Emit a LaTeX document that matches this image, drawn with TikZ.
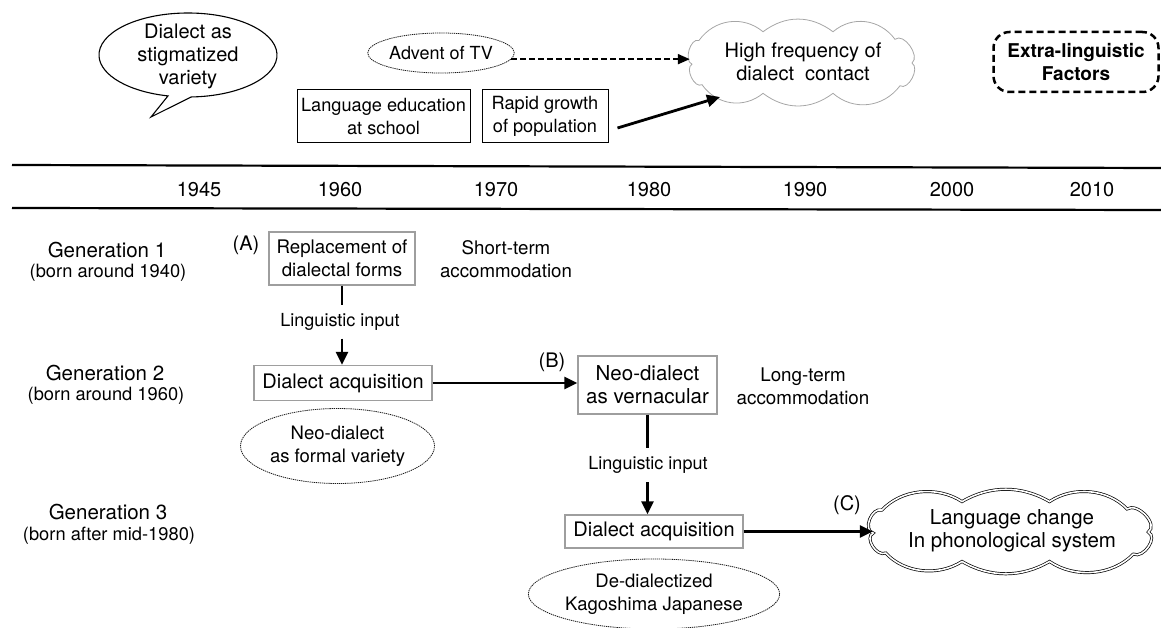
\documentclass[tikz,border=0pt]{standalone}
\usepackage{fontspec}
\setmainfont{TeX Gyre Heros}
\usetikzlibrary{shapes.geometric,arrows.meta}
\newcommand\fsz[1]{\fontsize{#1}{23}\selectfont}
\newcommand\cloudoutline{(-111,2) to[bend left=90] (-104,-20) to[bend left=45] (-40,-28) to[bend left=35] (30,-28) to[bend left=45] (92,-21) to[bend left=90] (109,1) to[bend left=90] (97,22) to[bend left=45] (30,29) to[bend left=35] (-40,29) to[bend left=45] (-101,21) to[bend left=90] (-111,2) -- cycle}
\begin{document}
\begin{tikzpicture}[x=1pt,y=-1pt,
  txt/.style={align=center,inner sep=0pt,font=\fsz{18.5}},
  gbox/.style={txt,draw=black!38,line width=1.3pt},
  bbox/.style={txt,draw=black,line width=1pt},
  dotell/.style={txt,ellipse,draw=black!90,line width=0.8pt,dash pattern=on 1.3pt off 0.8pt},
  arr/.style={line width=2.8pt,-{Triangle[length=13pt,width=12pt]}},
  seg/.style={line width=2.8pt},
  dasharr/.style={line width=2pt,dash pattern=on 6pt off 3pt,-{Triangle[length=12pt,width=10pt]}},
  lab/.style={txt,font=\fsz{20}},
  anchorell/.style={ellipse,inner sep=0pt}]
\useasboundingbox (0,0) rectangle (1161,628);

% speech bubble
\node[txt,font=\fsz{20}] (bubble) at (188,56) {Dialect as\\stigmatized\\variety};
\draw[line width=1.1pt] (188,55) ++(88:89 and 42) arc[start angle=88,end angle=-257,x radius=89,y radius=42] -- (151,117) -- cycle;

% top factors
\node[dotell,minimum width=144pt,minimum height=40pt,font=\fsz{18}] (tv) at (441,53) {Advent of TV};
\node[anchorell,minimum width=226pt,minimum height=80pt] (cl1) at (803,62) {};
\draw[shift={(cl1.center)},yscale=1.08,draw=black!35,line width=0.8pt] \cloudoutline;
\node[txt,font=\fsz{20}] (cl1t) at (803,62) {High frequency of\\dialect\ \ contact};
\node[bbox,minimum width=173pt,minimum height=53pt,font=\fsz{18.2}] (lang) at (383.5,116.5) {Language education\\at school};
\node[bbox,minimum width=126pt,minimum height=53pt,font=\fsz{18.2}] (rapid) at (545,116.5) {Rapid growth\\of population};
\node[txt,draw,line width=2.5pt,dash pattern=on 7pt off 4pt,rounded corners=16pt,minimum width=165pt,minimum height=60pt,font=\bfseries\fsz{19}] (extra) at (1076,62) {Extra-linguistic\\Factors};

\draw[dasharr] (tv.-5) -- (tv.-5 -| cl1.west);
\draw[arr] ([xshift=9pt,yshift=-11.5pt]rapid.east) -- ([shift={(-83,35)}]cl1.center);

% timeline
\draw[line width=2.2pt] (12,165) -- (1161,168);
\draw[line width=2.2pt] (12,208) -- (1161,210);
\node[lab] (y45) at (199,190) {1945};
\node[lab] (y60) at (340,190) {1960};
\node[lab] (y70) at (496,190) {1970};
\node[lab] (y80) at (649,190) {1980};
\node[lab] (y90) at (805,190) {1990};
\node[lab] (y00) at (952,190) {2000};
\node[lab] (y10) at (1092,190) {2010};

% generations
\node[txt,font=\fsz{20.5}] (g1) at (107,250) {Generation 1};
\node[txt,font=\fsz{18.3}] (g1b) at (108,273) {(born around 1940)};
\node[txt,font=\fsz{20.5}] (g2) at (105,373) {Generation 2};
\node[txt,font=\fsz{18.3}] (g2b) at (106,396) {(born around 1960)};
\node[txt,font=\fsz{20.5}] (g3) at (108,512) {Generation 3};
\node[txt,font=\fsz{18.3}] (g3b) at (109,536) {(born after mid-1980)};

% generation 1
\node[lab] (la) at (246,245) {(A)};
\node[gbox,minimum width=146pt,minimum height=53pt,font=\fsz{18.7}] (rep) at (342,258.5) {Replacement of\\dialectal forms};
\node[txt,font=\fsz{18.7}] (short) at (506,259) {Short-term\\accommodation};
\node[txt,minimum height=33pt,font=\fsz{18}] (li1) at (340,322) {Linguistic input};
\node[gbox,minimum width=178pt,minimum height=35pt,font=\fsz{20}] (dial1) at (343,383) {Dialect acquisition};
\draw[seg] (rep.south) -- (rep.south |- li1.north);
\draw[arr] (rep.south |- li1.south) -- (rep.south |- dial1.north);
\node[dotell,minimum width=194pt,minimum height=75pt,font=\fsz{18.5}] (formal) at (337.5,446) {Neo-dialect\\as formal variety};

% generation 2
\node[lab] (lb) at (552,362) {(B)};
\node[gbox,minimum width=139pt,minimum height=58pt,font=\fsz{20.5}] (neo) at (647.5,385) {Neo-dialect\\as vernacular};
\draw[arr] (dial1.east) -- (dial1.east -| neo.west);
\node[txt,font=\fsz{18.8}] (long) at (803,386) {Long-term\\accommodation};
\node[txt,minimum height=34pt,font=\fsz{18}] (li2) at (648,465) {Linguistic input};
\node[gbox,minimum width=178pt,minimum height=33pt,font=\fsz{20}] (dial2) at (654,531.5) {Dialect acquisition};
\draw[seg] (neo.south) -- (neo.south |- li2.north);
\draw[arr] (neo.south |- li2.south) -- (neo.south |- dial2.north);
\node[dotell,minimum width=240pt,minimum height=70pt,font=\fsz{18.5}] (dedial) at (654,594) {De-dialectized\\Kagoshima Japanese};

% generation 3
\node[lab] (lc) at (847,505) {(C)};
\node[anchorell,minimum width=278pt,minimum height=78pt] (cl2) at (1012,531) {};
\draw[shift={(cl2.center)},xscale=1.25,yscale=1.05,draw=black,line width=0.7pt,double,double distance=1.6pt] \cloudoutline;
\node[txt,font=\fsz{20.5}] (cl2t) at (1012,531) {Language change\\In phonological system};
\draw[arr] (dial2.east) -- (dial2.east -| cl2.west);
\end{tikzpicture}
\end{document}
